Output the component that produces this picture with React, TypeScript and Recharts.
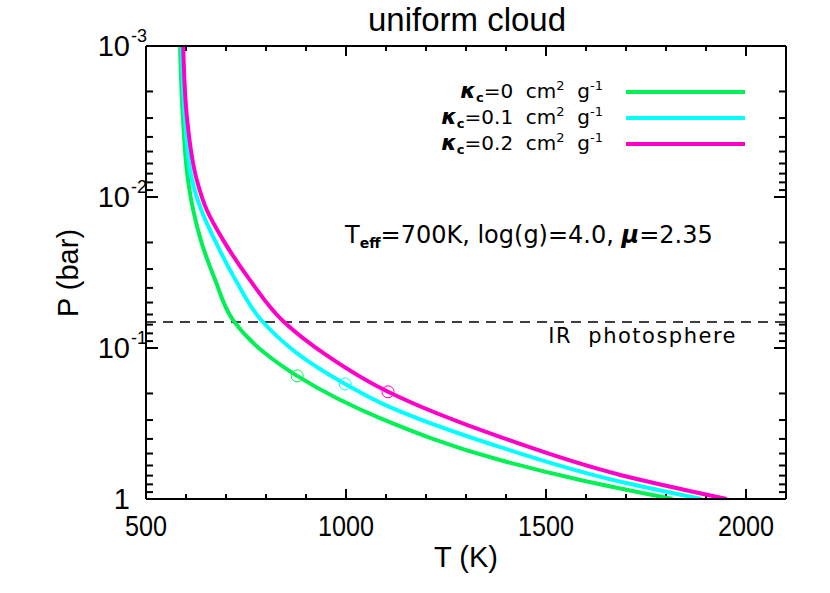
import React from 'react';
import { ComposedChart, Line, XAxis, YAxis, ReferenceLine, ReferenceDot, Customized } from 'recharts';

// temperature (K) / pressure (bar) profiles
const tKappa0 = [585, 592.5, 605, 618, 637, 673, 717.6, 793, 877.7, 1085, 1385, 1586, 1817];
const pKappa0 = [0.001, 0.00309, 0.00771, 0.0122, 0.0193, 0.0355, 0.0653, 0.106, 0.153, 0.291, 0.552, 0.748, 1];

const tKappa01 = [589, 597.5, 615, 638, 672, 724, 788, 877, 997.7, 1085.3, 1385.4, 1668, 1888.6];
const pKappa01 = [0.001, 0.00309, 0.00771, 0.0122, 0.0193, 0.0355, 0.0653, 0.108, 0.173, 0.23, 0.453, 0.748, 1];

const tKappa02 = [593, 603, 627, 652, 693, 760, 842.5, 950, 1105, 1385, 1686, 1952];
const pKappa02 = [0.001, 0.00309, 0.00771, 0.0122, 0.0193, 0.0355, 0.0662, 0.111, 0.195, 0.388, 0.693, 1];

const markerT = [878, 998, 1105];
const markerP = [0.153, 0.173, 0.195];

const photosphereP = 0.0673;

const legendKappa = ['0', '0.1', '0.2'];
const seriesColors = ['#00f055', '#00ffff', '#ff00c8'];

const xTicks = [500, 600, 700, 800, 900, 1000, 1100, 1200, 1300, 1400, 1500, 1600, 1700, 1800, 1900, 2000, 2100];
const xMajor = [500, 1000, 1500, 2000];
const yTicks = [
  0.001, 0.002, 0.003, 0.004, 0.005, 0.006, 0.007, 0.008, 0.009,
  0.01, 0.02, 0.03, 0.04, 0.05, 0.06, 0.07, 0.08, 0.09,
  0.1, 0.2, 0.3, 0.4, 0.5, 0.6, 0.7, 0.8, 0.9, 1,
];
const yMajor = [0.001, 0.01, 0.1, 1];
const yMajorExp = ['-3', '-2', '-1', ''];

const T_MIN = 500;
const T_MAX = 2100;
const P_MIN = 0.001;
const P_MAX = 1;

// plot box is 640 x 453 px: used only to turn tick lengths (px) into data units
const K_PER_PX = (T_MAX - T_MIN) / 640;
const DEC_PER_PX = 3 / 453;

const zip = (t: number[], p: number[]) => t.map((v, i) => ({ T: v, P: p[i] }));
const series = [zip(tKappa0, pKappa0), zip(tKappa01, pKappa01), zip(tKappa02, pKappa02)];

const xTickLen = (v: number) => (xMajor.includes(v) ? 10 : 5);
const yTickLen = (v: number) => (yMajor.includes(v) ? 12 : 7);

const labelFont = 'Liberation Sans, Arial, Helvetica, sans-serif';
const noteFont = 'DejaVu Sans, sans-serif';

const BottomLabel = (props: any) => {
  const { x, y, payload } = props;
  if (!xMajor.includes(payload.value)) return <g />;
  return (
    <text x={x} y={Number(y) + 37} textAnchor="middle" fontSize={29} fontFamily={labelFont} fill="#000"
      textLength={String(payload.value).length * 14} lengthAdjust="spacingAndGlyphs">
      {payload.value}
    </text>
  );
};

const LeftLabel = (props: any) => {
  const { x, y, payload } = props;
  const idx = yMajor.indexOf(payload.value);
  if (idx < 0) return <g />;
  const ax = Number(x);
  const ay = Number(y);
  if (yMajorExp[idx] === '') {
    return <text x={ax - 16} y={ay + 10} textAnchor="end" fontSize={29} fontFamily={labelFont} fill="#000">1</text>;
  }
  return (
    <g fontFamily={labelFont} fill="#000">
      <text x={ax - 16} y={ay + 10} textAnchor="end" fontSize={29}>10</text>
      <text x={ax - 15} y={ay - 4} fontSize={18}>{yMajorExp[idx]}</text>
    </g>
  );
};

const Overlay = () => (
  <g fill="#000">
    <text x={467} y={31} textAnchor="middle" fontSize={33} fontFamily={labelFont}>uniform cloud</text>
    <text x={466} y={567} textAnchor="middle" fontSize={29} fontFamily={labelFont}>T (K)</text>
    <text x={0} y={0} transform="translate(78,273) rotate(-90)" textAnchor="middle" fontSize={29} fontFamily={labelFont}>P (bar)</text>

    {legendKappa.map((k, i) => (
      <g key={k}>
        <text x={603} y={98 + i * 26} textAnchor="end" fontSize={20} fontFamily={noteFont} style={{ whiteSpace: 'pre' }}>
          <tspan fontWeight="bold" fontStyle="italic" fontSize={22}>κ</tspan>
          <tspan fontWeight="bold" fontSize={13} dy={4}>c</tspan>
          <tspan dy={-4}>{`=${k}  cm`}</tspan>
          <tspan fontSize={13} dy={-8}>2</tspan>
          <tspan dy={8}>{'  g'}</tspan>
          <tspan fontSize={13} dy={-8}>-1</tspan>
        </text>
        <line x1={626} x2={745} y1={92 + i * 26} y2={92 + i * 26} stroke={seriesColors[i]} strokeWidth={4} />
      </g>
    ))}

    <text x={345} y={243} fontSize={24} fontFamily={noteFont} style={{ whiteSpace: 'pre' }}>
      <tspan>T</tspan>
      <tspan fontSize={14} fontWeight="bold" dy={5}>eff</tspan>
      <tspan dy={-5}>{'=700K, log(g)=4.0, '}</tspan>
      <tspan fontStyle="italic" fontWeight="bold">μ</tspan>
      <tspan>=2.35</tspan>
    </text>

    <text x={737} y={343} textAnchor="end" fontSize={21} fontFamily={noteFont} letterSpacing={1.5} style={{ whiteSpace: 'pre' }}>
      IR  photosphere
    </text>
  </g>
);

const tickColor = '#000';

export default function App() {
  return (
    <div style={{ position: 'absolute', left: 0, top: 0, background: '#fff' }}>
      <ComposedChart width={830} height={593} margin={{ top: 36, right: 34, bottom: 54, left: 86 }}>
        <XAxis xAxisId="b" type="number" dataKey="T" domain={[T_MIN, T_MAX]} ticks={xTicks} allowDataOverflow
          height={40} tickSize={0} tickMargin={0} tickLine={false} interval={0}
          axisLine={{ stroke: '#000', strokeWidth: 2 }} tick={(p: any) => <BottomLabel {...p} />} />
        <XAxis xAxisId="t" orientation="top" type="number" dataKey="T" domain={[T_MIN, T_MAX]} allowDataOverflow
          height={10} tick={false} tickLine={false} axisLine={{ stroke: '#000', strokeWidth: 2 }} />
        <YAxis yAxisId="l" type="number" dataKey="P" scale="log" domain={[P_MIN, P_MAX]} reversed ticks={yTicks} allowDataOverflow
          width={60} tickSize={0} tickMargin={0} tickLine={false} interval={0}
          axisLine={{ stroke: '#000', strokeWidth: 2 }} tick={(p: any) => <LeftLabel {...p} />} />
        <YAxis yAxisId="r" orientation="right" type="number" dataKey="P" scale="log" domain={[P_MIN, P_MAX]} reversed allowDataOverflow
          width={10} tick={false} tickLine={false} axisLine={{ stroke: '#000', strokeWidth: 2 }} />

        {/* inward tick marks on all four sides */}
        {xTicks.map((v) => (
          <ReferenceLine key={`b${v}`} xAxisId="b" yAxisId="l" stroke={tickColor} strokeWidth={2}
            segment={[{ x: v, y: P_MAX }, { x: v, y: P_MAX * Math.pow(10, -xTickLen(v) * DEC_PER_PX) }]} />
        ))}
        {xTicks.map((v) => (
          <ReferenceLine key={`t${v}`} xAxisId="b" yAxisId="l" stroke={tickColor} strokeWidth={2}
            segment={[{ x: v, y: P_MIN }, { x: v, y: P_MIN * Math.pow(10, xTickLen(v) * DEC_PER_PX) }]} />
        ))}
        {yTicks.map((v) => (
          <ReferenceLine key={`l${v}`} xAxisId="b" yAxisId="l" stroke={tickColor} strokeWidth={2}
            segment={[{ x: T_MIN, y: v }, { x: T_MIN + yTickLen(v) * K_PER_PX, y: v }]} />
        ))}
        {yTicks.map((v) => (
          <ReferenceLine key={`r${v}`} xAxisId="b" yAxisId="l" stroke={tickColor} strokeWidth={2}
            segment={[{ x: T_MAX, y: v }, { x: T_MAX - yTickLen(v) * K_PER_PX, y: v }]} />
        ))}

        <ReferenceLine xAxisId="b" yAxisId="l" y={photosphereP} stroke="#000" strokeWidth={1.5} strokeDasharray="10 7" />

        {series.map((d, i) => (
          <Line key={i} xAxisId="b" yAxisId="l" data={d} dataKey="P" type="monotoneY"
            stroke={seriesColors[i]} strokeWidth={4} dot={false} activeDot={false} isAnimationActive={false} />
        ))}

        {markerT.map((t, i) => (
          <ReferenceDot key={i} xAxisId="b" yAxisId="l" x={t} y={markerP[i]} r={6}
            fill="none" stroke={seriesColors[i]} strokeWidth={1} />
        ))}

        <Customized component={Overlay} />
      </ComposedChart>
    </div>
  );
}
